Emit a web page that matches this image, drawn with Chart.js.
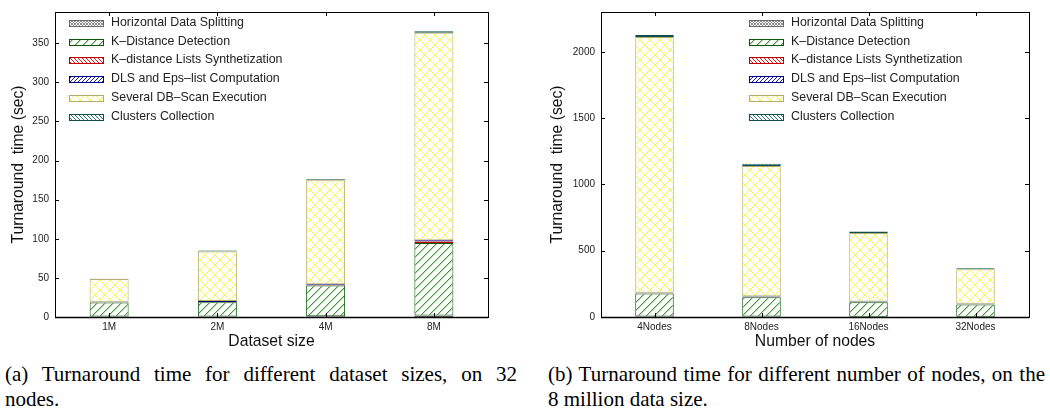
<!DOCTYPE html>
<html>
<head>
<meta charset="utf-8">
<script src="https://cdn.jsdelivr.net/npm/chart.js@4"></script>
<style>
body { margin: 0; background: #fff; width: 1050px; height: 410px; position: relative; overflow: hidden; }
canvas { position: absolute; top: 0; }
.cap { position: absolute; font: 21px "Liberation Serif", serif; line-height: 21px; color: #000; white-space: nowrap; }
.full { text-align: justify; text-align-last: justify; }
</style>
</head>
<body>
<canvas id="sizes" width="520" height="350" style="left:0"></canvas>
<canvas id="nodes" width="520" height="350" style="left:530px"></canvas>
<div class="cap full" style="left:5px;top:364px;width:512px">(a) Turnaround time for different dataset sizes, on 32</div>
<div class="cap" style="left:5px;top:389px">nodes.</div>
<div class="cap full" style="left:548px;top:364px;width:497px">(b) Turnaround time for different number of nodes, on the</div>
<div class="cap" style="left:548px;top:389px">8 million data size.</div>
<script>
// phase names (stack order bottom -> top, legend order top -> bottom)
const phases = ['Horizontal Data Splitting', 'K\u2013Distance Detection', 'K\u2013distance Lists Synthetization',
                'DLS and Eps\u2013list Computation', 'Several DB\u2013Scan Execution', 'Clusters Collection'];

// (a) dataset size, 32 nodes
const sizes = ['1M', '2M', '4M', '8M'];
const splitA   = [0.5, 0.5, 0.8, 2];
const kdistA   = [18, 18.5, 39.5, 92.5];
const listsA   = [0.3, 0.3, 0.7, 2];
const dlsA     = [0.7, 1, 1, 1.5];
const dbscanA  = [29, 63.4, 133, 265.5];
const collectA = [0.5, 1.3, 1, 2];
const yTicksA  = [0, 50, 100, 150, 200, 250, 300, 350];

// (b) number of nodes, 8M points
const nodes = ['4Nodes', '8Nodes', '16Nodes', '32Nodes'];
const splitB   = [3, 3, 2, 2];
const kdistB   = [174, 146, 110, 93];
const listsB   = [2, 4, 2, 2];
const dlsB     = [3, 3, 2, 2];
const dbscanB  = [1930, 982, 517, 262];
const collectB = [15, 18, 12, 7];
const yTicksB  = [0, 500, 1000, 1500, 2000];

// crisp pixel hatch tiles
function hatch(size, color, dirs, soft) {
    const c = document.createElement('canvas');
    c.width = size; c.height = size;
    const g = c.getContext('2d');
    g.fillStyle = '#fff';
    g.fillRect(0, 0, size, size);
    dirs.forEach(d => {
        for (let i = 0; i < size; i++) {
            const y = d === '/' ? size - 1 - i : i;
            if (soft) {
                g.fillStyle = soft;
                g.fillRect(i, (y + 1) % size, 1, 1);
            }
            g.fillStyle = color;
            g.fillRect(i, y, 1, 1);
        }
    });
    return g.createPattern(c, 'repeat');
}

const fills = [hatch(3, '#8c8c8c', ['/', '\\']), hatch(8, '#3f9236', ['/'], '#b4d8ac'), hatch(4, '#e02020', ['\\']),
               hatch(4, '#2020a0', ['/']), hatch(10, '#f8f850', ['/', '\\']), hatch(4, '#1f7676', ['\\'])];
const borders = ['#6a6a6a', '#0c560c', '#c00000', '#000080', '#b4ac6c', '#0e4e4e'];

function makeSets(series) {
    return series.map((vals, i) => ({
        label: phases[i],
        data: vals,
        backgroundColor: fills[i],
        hoverBackgroundColor: fills[i],
        borderColor: borders[i],
        borderWidth: 1,
        borderSkipped: false,
        barPercentage: 0.36,
        categoryPercentage: 1.0
    }));
}

const frame = {
    id: 'frame',
    afterDatasetsDraw(chart, args, opts) {
        const { ctx, chartArea: a, scales: { x, y } } = chart;
        ctx.save();
        ctx.strokeStyle = '#000';
        ctx.lineWidth = 1;
        ctx.beginPath();
        x.ticks.forEach((t, i) => {
            const px = Math.round(x.getPixelForTick(i)) + 0.5;
            ctx.moveTo(px, a.top); ctx.lineTo(px, a.top + 4);
            ctx.moveTo(px, a.bottom); ctx.lineTo(px, a.bottom - 4);
        });
        y.ticks.forEach((t, i) => {
            const py = Math.round(y.getPixelForTick(i)) + 0.5;
            ctx.moveTo(a.left, py); ctx.lineTo(a.left + 4, py);
            ctx.moveTo(a.right, py); ctx.lineTo(a.right - 4, py);
        });
        ctx.stroke();
        ctx.strokeRect(Math.round(a.left) + 0.5, Math.round(a.top) + 0.5, Math.round(a.right - a.left), Math.round(a.bottom - a.top));
        ctx.lineWidth = 1.5;
        ctx.beginPath();
        ctx.moveTo(a.left, Math.round(a.bottom) + 0.5);
        ctx.lineTo(a.right, Math.round(a.bottom) + 0.5);
        ctx.stroke();

        // legend inside the plot
        ctx.lineWidth = 1;
        ctx.font = '12.4px "Liberation Sans", Arial, sans-serif';
        ctx.textBaseline = 'middle';
        chart.data.datasets.forEach((ds, i) => {
            const cy = Math.round(opts.top + i * 18.7);
            ctx.fillStyle = ds.backgroundColor;
            ctx.fillRect(opts.left, cy - 3, 34, 6);
            ctx.strokeStyle = ds.borderColor;
            ctx.strokeRect(opts.left + 0.5, cy - 3 + 0.5, 34, 6);
            ctx.fillStyle = '#222';
            ctx.fillText(ds.label, opts.left + 42, cy);
        });
        ctx.restore();
    }
};

const font = { family: '"Liberation Sans", Arial, sans-serif' };

function build(id, labels, series, ymax, yTicks, ytitle, xtitle, yw, titlePad, rightPad, legendLeft) {
    return new Chart(document.getElementById(id), {
        type: 'bar',
        data: { labels: labels, datasets: makeSets(series) },
        plugins: [frame],
        options: {
            responsive: false,
            animation: false,
            events: [],
            layout: { padding: { top: 9, right: rightPad, left: 0, bottom: 0 } },
            plugins: {
                legend: { display: false },
                tooltip: { enabled: false },
                frame: { left: legendLeft, top: 23 }
            },
            scales: {
                x: {
                    stacked: true,
                    offset: true,
                    grid: { display: false, drawTicks: false },
                    border: { display: false },
                    ticks: { color: '#222', font: { ...font, size: 10 }, padding: 4 },
                    title: { display: true, text: xtitle, color: '#111', font: { ...font, size: 15.7 }, padding: { top: 0, bottom: -1 } },
                    afterFit: s => { s.height = 33; }
                },
                y: {
                    stacked: true,
                    min: 0,
                    max: ymax,
                    grid: { display: false, drawTicks: false },
                    border: { display: false },
                    ticks: { color: '#222', font: { ...font, size: 10 }, padding: 6, callback: v => String(v) },
                    afterBuildTicks: s => { s.ticks = yTicks.map(v => ({ value: v })); },
                    title: { display: true, text: ytitle, color: '#111', font: { ...font, size: 15.7 }, padding: { top: titlePad, bottom: 0 } },
                    afterFit: s => { s.width = yw; }
                }
            }
        }
    });
}

build('sizes', sizes, [splitA, kdistA, listsA, dlsA, dbscanA, collectA], 390, yTicksA,
      'Turnaround  time (sec)', 'Dataset size', 55, 9, 32, 69);
build('nodes', nodes, [splitB, kdistB, listsB, dlsB, dbscanB, collectB], 2300, yTicksB,
      'Turnaround  time (sec)', 'Number of nodes', 71, 18, 21, 219);
</script>
</body>
</html>
